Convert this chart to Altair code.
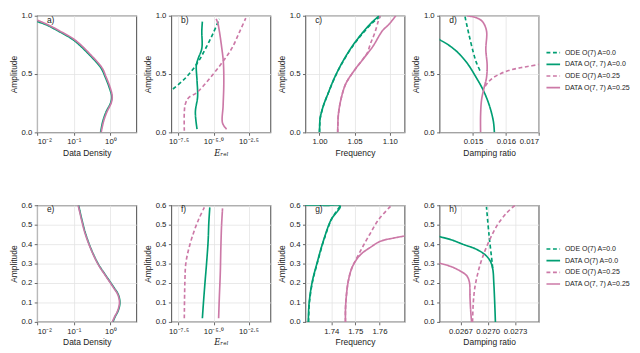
import altair as alt
import pandas as pd

GREEN = "#009E73"
PINK = "#CC79A7"

LABELS_TOP = ["ODE O(7) A=0.0", "DATA O(7, 7) A=0.0", "ODE O(7) A=0.25", "DATA O(7, 7) A=0.25"]
LABELS_BOTTOM = ["ODE O(7) A=0.0", "DATA O(7) A=0.0", "ODE O(7) A=0.25", "DATA O(7, 7) A=0.25"]
SERIES_COLORS = [GREEN, GREEN, PINK, PINK]
SERIES_DASHES = [[4, 2.7], [1, 0], [4, 2.7], [1, 0]]

# ---------------- panel a : data density (row 1)
a_amp_g = [0.0, 0.094, 0.174, 0.255, 0.31, 0.39, 0.48, 0.55, 0.66, 0.79, 0.87, 0.925, 0.95]
a_den_g = [0.54, 0.62, 0.76, 1.02, 1.08, 0.92, 0.71, 0.56, 0.277, 0.10, 0.037, 0.017, 0.0100]
a_amp_p = [0.0, 0.094, 0.174, 0.255, 0.31, 0.39, 0.48, 0.55, 0.66, 0.79, 0.87, 0.925, 0.962]
a_den_p = [0.56, 0.65, 0.80, 1.06, 1.12, 0.97, 0.75, 0.60, 0.30, 0.11, 0.041, 0.019, 0.0100]

# ---------------- panel b : log10 relative error (row 1)
b_amp_ode0 = [0.30, 0.362, 0.469, 0.59, 0.71, 0.845, 0.973]
b_log_ode0 = [-8.6, -8.0, -6.98, -6.18, -5.61, -5.05, -4.59]
b_amp_dat0 = [0.027, 0.174, 0.308, 0.442, 0.576, 0.63, 0.72, 0.87, 0.95]
b_log_dat0 = [-6.18, -6.30, -6.14, -6.18, -6.23, -6.11, -5.84, -5.84, -5.80]
b_amp_ode25 = [0.013, 0.174, 0.241, 0.295, 0.343, 0.464, 0.603, 0.724, 0.858, 0.979]
b_log_ode25 = [-7.09, -7.09, -7.02, -6.80, -6.18, -5.27, -4.36, -3.68, -3.16, -2.70]
b_amp_dat25 = [0.027, 0.08, 0.228, 0.415, 0.6, 0.737, 0.87, 0.938, 0.973]
b_log_dat25 = [-4.07, -4.36, -4.32, -4.27, -4.30, -4.43, -4.59, -4.70, -4.82]

# ---------------- panel c : frequency (row 1)
c_amp_ode0 = [0.0, 0.06, 0.12, 0.228, 0.335, 0.469, 0.603, 0.737, 0.845, 0.938, 1.0]
c_frq_ode0 = [1.0, 1.0003, 1.0010, 1.0056, 1.0124, 1.0216, 1.0330, 1.0470, 1.0610, 1.0752, 1.088]
c_amp_dat0 = [0.0, 0.06, 0.12, 0.228, 0.335, 0.469, 0.603, 0.737, 0.845, 0.938, 1.0]
c_frq_dat0 = [1.0, 1.0003, 1.0009, 1.0055, 1.0123, 1.0214, 1.0327, 1.0464, 1.0600, 1.0736, 1.085]
c_amp_ode25 = [0.0, 0.147, 0.282, 0.416, 0.523, 0.63, 0.684, 0.764, 0.845, 0.952, 1.0]
c_frq_ode25 = [1.0259, 1.0268, 1.0305, 1.0373, 1.0486, 1.0620, 1.0682, 1.0727, 1.0782, 1.0836, 1.0864]
c_amp_dat25 = [0.0, 0.147, 0.282, 0.416, 0.523, 0.63, 0.737, 0.871, 0.925, 1.0]
c_frq_dat25 = [1.0259, 1.0268, 1.0305, 1.0373, 1.0486, 1.0623, 1.0759, 1.0895, 1.0986, 1.1086]

# ---------------- panel d : damping ratio (row 1)
d_amp_ode0 = [0.53, 0.60, 0.684, 0.845, 1.0]
d_dmp_ode0 = [0.01521, 0.01510, 0.01501, 0.01487, 0.01475]
d_amp_dat0 = [0.0, 0.094, 0.228, 0.362, 0.483, 0.59, 0.684, 0.75, 0.796, 0.815]
d_dmp_dat0 = [0.01565, 0.01562, 0.01550, 0.01531, 0.01507, 0.01483, 0.01454, 0.01425, 0.013976, 0.01388]
d_amp_ode25 = [0.395, 0.43, 0.47, 0.505, 0.53, 0.55, 0.565, 0.582, 0.59]
d_dmp_ode25 = [0.01537, 0.01546, 0.01562, 0.01585, 0.01608, 0.01637, 0.01666, 0.01700, 0.01712]
d_amp_dat25 = [0.0, 0.147, 0.28, 0.375, 0.469, 0.576, 0.71, 0.871, 0.952, 0.985, 1.0]
d_dmp_dat25 = [0.01523, 0.01523, 0.01526, 0.01533, 0.01541, 0.01543, 0.01539, 0.01541, 0.01528, 0.01508, 0.01482]

# ---------------- panel e : data density (row 2)
e_amp = [0.0, 0.027, 0.06, 0.10, 0.14, 0.18, 0.237, 0.30, 0.38, 0.46, 0.527, 0.6]
e_den_g = [1.17, 1.35, 1.65, 1.82, 1.65, 1.22, 0.76, 0.46, 0.29, 0.205, 0.166, 0.135]
e_den_p = [1.13, 1.31, 1.60, 1.77, 1.60, 1.18, 0.74, 0.45, 0.285, 0.20, 0.162, 0.132]

# ---------------- panel f : log10 relative error (row 2)
f_amp_dat0 = [0.019, 0.092, 0.205, 0.302, 0.415, 0.51, 0.589]
f_log_dat0 = [-5.80, -5.73, -5.61, -5.50, -5.39, -5.34, -5.27]
f_amp_ode25 = [0.019, 0.205, 0.302, 0.382, 0.463, 0.527, 0.589]
f_log_ode25 = [-7.09, -7.05, -6.98, -6.75, -6.41, -6.07, -5.66]
f_amp_dat25 = [0.019, 0.124, 0.253, 0.382, 0.495, 0.584]
f_log_dat25 = [-4.64, -4.59, -4.52, -4.48, -4.43, -4.36]

# ---------------- panel g : frequency (row 2)
g_amp_ode0 = [0.0, 0.092, 0.205, 0.302, 0.415, 0.527, 0.6]
g_frq_ode0 = [1.7306, 1.7309, 1.7322, 1.7342, 1.7368, 1.7401, 1.7439]
g_amp_dat0 = [0.0, 0.092, 0.205, 0.302, 0.415, 0.527, 0.596, 0.5995, 0.601]
g_frq_dat0 = [1.7305, 1.7308, 1.7321, 1.7341, 1.7367, 1.7400, 1.7437, 1.7380, 1.7280]
g_amp_ode25 = [0.0, 0.06, 0.124, 0.205, 0.269, 0.302, 0.374, 0.447, 0.527, 0.6]
g_frq_ode25 = [1.7459, 1.7459, 1.7462, 1.7470, 1.7483, 1.7495, 1.7525, 1.7558, 1.7597, 1.7650]
g_amp_dat25 = [0.0, 0.06, 0.124, 0.205, 0.269, 0.31, 0.35, 0.385, 0.415, 0.431, 0.442, 0.447]
g_frq_dat25 = [1.7459, 1.7459, 1.7462, 1.7470, 1.7483, 1.7499, 1.7525, 1.7564, 1.7604, 1.7657, 1.7703, 1.7720]

# ---------------- panel h : damping ratio (row 2)
h_amp_ode0 = [0.277, 0.302, 0.447, 0.592]
h_dmp_ode0 = [0.027054, 0.027049, 0.027014, 0.026986]
h_amp_dat0 = [0.0, 0.092, 0.205, 0.269, 0.31, 0.342, 0.374, 0.398, 0.423, 0.439, 0.45]
h_dmp_dat0 = [0.027084, 0.027077, 0.027066, 0.027056, 0.027031, 0.026979, 0.026874, 0.026735, 0.026595, 0.02647, 0.02640]
h_amp_ode25 = [0.0, 0.092, 0.173, 0.253, 0.334, 0.415, 0.495, 0.56, 0.6]
h_dmp_ode25 = [0.026833, 0.02684, 0.026857, 0.026892, 0.026944, 0.027014, 0.027101, 0.027206, 0.0273]
h_amp_dat25 = [0.0, 0.06, 0.124, 0.205, 0.237, 0.261, 0.285, 0.302, 0.31]
h_dmp_dat25 = [0.026822, 0.026812, 0.026805, 0.026798, 0.02677, 0.0267, 0.026595, 0.02647, 0.02640]

W, H = 102, 120
FONT = "Liberation Sans"


def table(series):
    rows = []
    for label, amps, xs in series:
        for i, (a, x) in enumerate(zip(amps, xs)):
            rows.append({"series": label, "amp": a, "x": x, "i": i})
    return pd.DataFrame(rows)


def make_legend(legend_y):
    return alt.Legend(
        title=None, orient="none", legendX=W + 7, legendY=legend_y,
        symbolType="stroke", symbolSize=196, symbolStrokeWidth=1.7,
        labelFontSize=7.2, labelFont=FONT, labelColor="#222",
        rowPadding=-4.5, labelOffset=4, padding=0,
    )


def panel(series, labels, letter, xscale, xaxis, ydomain, yvalues, legend_y=None):
    df = table(series)
    leg = make_legend(legend_y) if legend_y is not None else None
    return (
        alt.Chart(df)
        .mark_line(clip=True, strokeWidth=1.7, interpolate="catmull-rom")
        .encode(
            x=alt.X("x:Q", scale=xscale, axis=xaxis),
            y=alt.Y("amp:Q", scale=alt.Scale(domain=ydomain, nice=False, zero=False),
                    axis=alt.Axis(title="Amplitude", values=yvalues, format=".1f")),
            color=alt.Color("series:N", scale=alt.Scale(domain=labels, range=SERIES_COLORS), legend=leg),
            strokeDash=alt.StrokeDash("series:N", scale=alt.Scale(domain=labels, range=SERIES_DASHES), legend=leg),
            order=alt.Order("i:Q"),
        )
        .properties(
            width=W, height=H,
            title=alt.TitleParams(letter, anchor="start", frame="group", dx=10, offset=-13, fontSize=8.7,
                                  fontWeight="normal", font=FONT, color="#222"),
        )
    )


dens_scale = alt.Scale(type="log", domain=[0.01, 5.1], nice=False)
dens_axis = alt.Axis(title="Data Density", values=[0.01, 0.1, 1],
                     labelExpr="datum.value < 0.05 ? '10⁻²' : datum.value < 0.5 ? '10⁻¹' : '10⁰'")
err_scale = alt.Scale(type="log", domain=[10 ** -8.02, 10 ** -0.94], nice=False)
err_axis = alt.Axis(title="Eᵣₑₗ", titleFont="DejaVu Serif", titleFontStyle="italic",
                    values=[10 ** -7.5, 1e-5, 10 ** -2.5],
                    labelExpr="datum.value < 1e-6 ? '10⁻⁷·⁵' : datum.value < 1e-4 ? '10⁻⁵·⁰' : '10⁻²·⁵'")


def lin(domain):
    return alt.Scale(domain=domain, nice=False, zero=False)


T = LABELS_TOP
B = LABELS_BOTTOM
Y1 = [0, 1]
Y1V = [0, 0.5, 1]
Y2 = [0, 0.6]
Y2V = [0, 0.1, 0.2, 0.3, 0.4, 0.5, 0.6]

pa = panel([(T[1], a_amp_g, a_den_g), (T[3], a_amp_p, a_den_p)], T, "a)", dens_scale, dens_axis, Y1, Y1V)
pb = panel([(T[0], b_amp_ode0, [10 ** v for v in b_log_ode0]),
            (T[1], b_amp_dat0, [10 ** v for v in b_log_dat0]),
            (T[2], b_amp_ode25, [10 ** v for v in b_log_ode25]),
            (T[3], b_amp_dat25, [10 ** v for v in b_log_dat25])], T, "b)", err_scale, err_axis, Y1, Y1V)
pc = panel([(T[0], c_amp_ode0, c_frq_ode0), (T[1], c_amp_dat0, c_frq_dat0),
            (T[2], c_amp_ode25, c_frq_ode25), (T[3], c_amp_dat25, c_frq_dat25)], T, "c)",
           lin([0.98, 1.121]), alt.Axis(title="Frequency", values=[1.0, 1.05, 1.1], format=".2f"), Y1, Y1V)
pd_ = panel([(T[0], d_amp_ode0, d_dmp_ode0), (T[1], d_amp_dat0, d_dmp_dat0),
             (T[2], d_amp_ode25, d_dmp_ode25), (T[3], d_amp_dat25, d_dmp_dat25)], T, "d)",
            lin([0.01398, 0.017]), alt.Axis(title="Damping ratio", values=[0.015, 0.016, 0.017], format=".3f"),
            Y1, Y1V, legend_y=30)

pe = panel([(B[1], e_amp, e_den_g), (B[3], e_amp, e_den_p)], B, "e)", dens_scale, dens_axis, Y2, Y2V)
pf = panel([(B[1], f_amp_dat0, [10 ** v for v in f_log_dat0]),
            (B[2], f_amp_ode25, [10 ** v for v in f_log_ode25]),
            (B[3], f_amp_dat25, [10 ** v for v in f_log_dat25])], B, "f)", err_scale, err_axis, Y2, Y2V)
pg = panel([(B[0], g_amp_ode0, g_frq_ode0), (B[1], g_amp_dat0, g_frq_dat0),
            (B[2], g_amp_ode25, g_frq_ode25), (B[3], g_amp_dat25, g_frq_dat25)], B, "g)",
           lin([1.7293, 1.7704]), alt.Axis(title="Frequency", values=[1.74, 1.75, 1.76], format=".2f"), Y2, Y2V)
ph = panel([(B[0], h_amp_ode0, h_dmp_ode0), (B[1], h_amp_dat0, h_dmp_dat0),
            (B[2], h_amp_ode25, h_dmp_ode25), (B[3], h_amp_dat25, h_dmp_dat25)], B, "h)",
           lin([0.02647, 0.02756]), alt.Axis(title="Damping ratio", values=[0.0267, 0.027, 0.0273], format=".4f"),
           Y2, Y2V, legend_y=37)

chart = (
    alt.concat(pa, pb, pc, pd_, pe, pf, pg, ph, columns=4, spacing={"row": 75, "column": 36}, bounds="flush")
    .resolve_scale(color="independent", strokeDash="independent")
    .properties(padding={"left": 0, "top": -2, "right": 0, "bottom": 0})
    .configure_axis(
        labelFont=FONT, titleFont=FONT, labelFontSize=8, titleFontSize=8.7, titleFontWeight="normal",
        labelColor="#222", titleColor="#222", gridColor="#e3e3e3", gridWidth=0.8, domain=False,
        tickColor="#666", tickSize=3, labelPadding=2.5, titlePadding=3, labelOverlap=False,
    )
    .configure_view(stroke="#666666", strokeWidth=1.2)
)

chart.save("out.html", embed_options={"renderer": "svg", "actions": False})
